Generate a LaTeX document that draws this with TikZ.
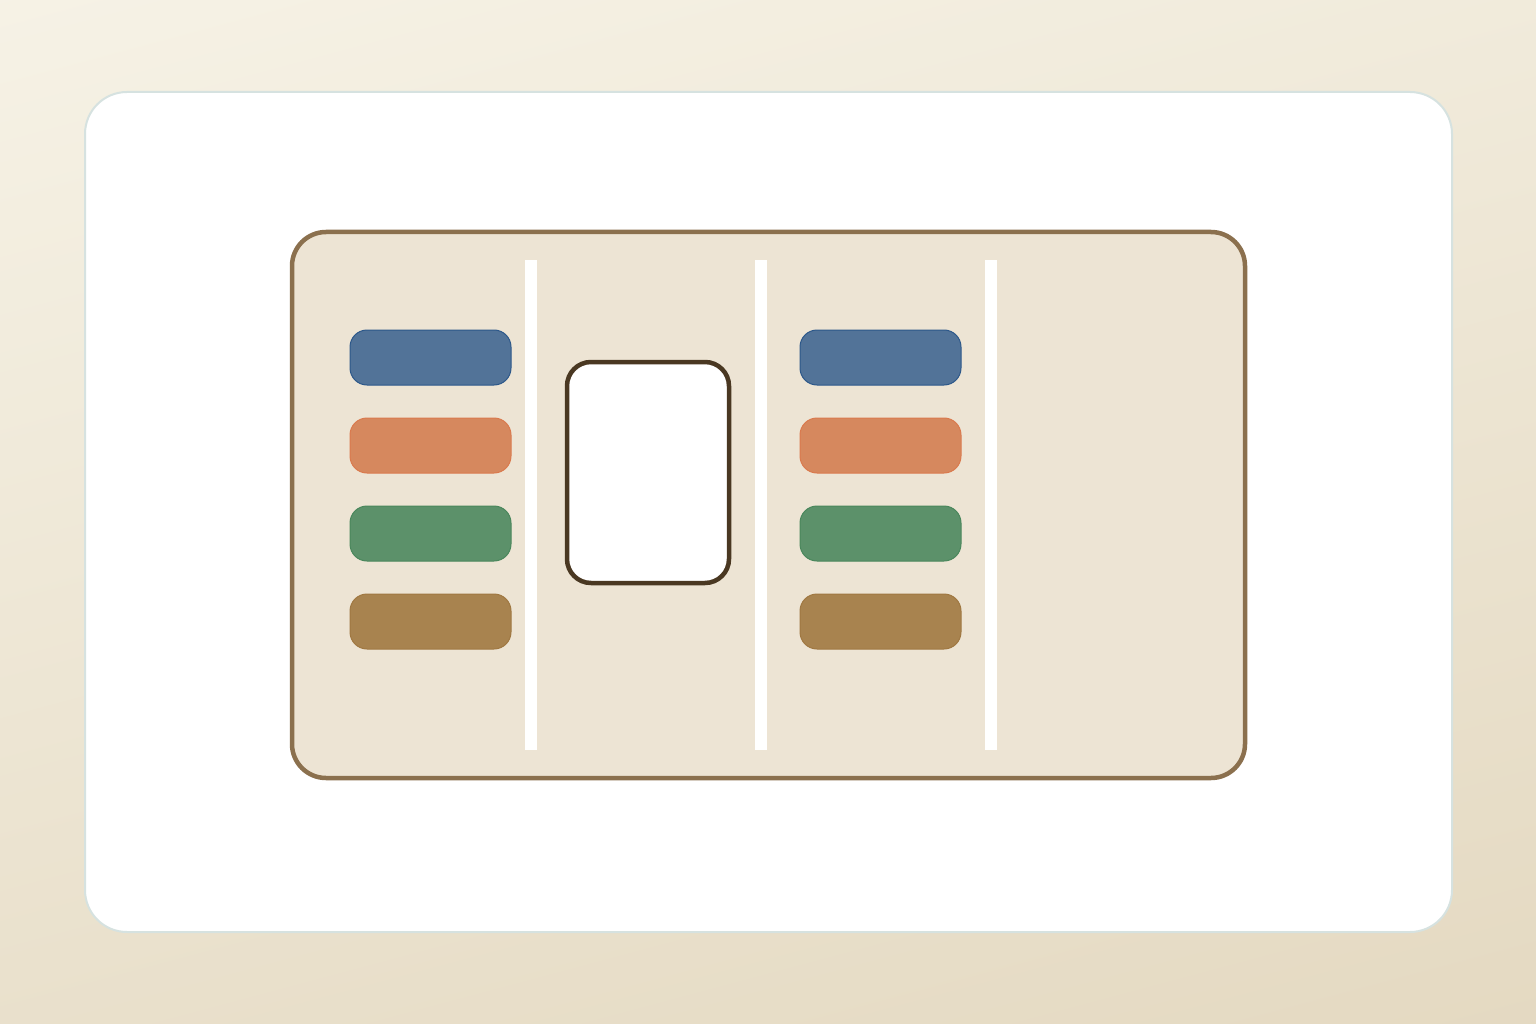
\documentclass[tikz,border=0pt]{standalone}
\usetikzlibrary{shadings}
\definecolor{bgA}{RGB}{248,245,234}
\definecolor{bgB}{RGB}{226,214,189}
\definecolor{cardline}{RGB}{214,226,224}
\definecolor{panelfill}{RGB}{237,228,212}
\definecolor{panelline}{RGB}{139,112,78}
\definecolor{cblue}{RGB}{82,115,152}
\definecolor{cbluel}{RGB}{45,88,138}
\definecolor{corange}{RGB}{214,136,94}
\definecolor{corangel}{RGB}{218,122,78}
\definecolor{cgreen}{RGB}{92,145,106}
\definecolor{cgreenl}{RGB}{74,135,92}
\definecolor{cbrown}{RGB}{168,131,79}
\definecolor{cbrownl}{RGB}{160,120,66}
\definecolor{frameline}{RGB}{74,56,34}
\tikzset{
  pill/.style={rounded corners=17pt, line width=1pt},
  divider/.style={fill=white, draw=none},
}
\begin{document}
\begin{tikzpicture}[x=1pt,y=-1pt]
\useasboundingbox (0,0) rectangle (1536,1024);
\shade[shading=axis, top color=bgA, bottom color=bgB, shading angle=15] (-300,-300) rectangle (1836,1324);
% outer card
\draw[cardline, line width=2pt, fill=white, rounded corners=42pt] (85,92) rectangle (1452,932);
% panel
\draw[panelline, line width=4.5pt, fill=panelfill, rounded corners=34pt] (292,232) rectangle (1245,778);
% dividers
\fill[divider] (525,260) rectangle (537,750);
\fill[divider] (755,260) rectangle (767,750);
\fill[divider] (985,260) rectangle (997,750);
% left pills
\draw[pill, draw=cbluel, fill=cblue] (350,330) rectangle (511,385);
\draw[pill, draw=corangel, fill=corange] (350,418) rectangle (511,473);
\draw[pill, draw=cgreenl, fill=cgreen] (350,506) rectangle (511,561);
\draw[pill, draw=cbrownl, fill=cbrown] (350,594) rectangle (511,649);
% right pills
\draw[pill, draw=cbluel, fill=cblue] (800,330) rectangle (961,385);
\draw[pill, draw=corangel, fill=corange] (800,418) rectangle (961,473);
\draw[pill, draw=cgreenl, fill=cgreen] (800,506) rectangle (961,561);
\draw[pill, draw=cbrownl, fill=cbrown] (800,594) rectangle (961,649);
% center frame
\draw[frameline, line width=4.5pt, fill=white, rounded corners=24pt] (567,362) rectangle (729,583);
\end{tikzpicture}
\end{document}
